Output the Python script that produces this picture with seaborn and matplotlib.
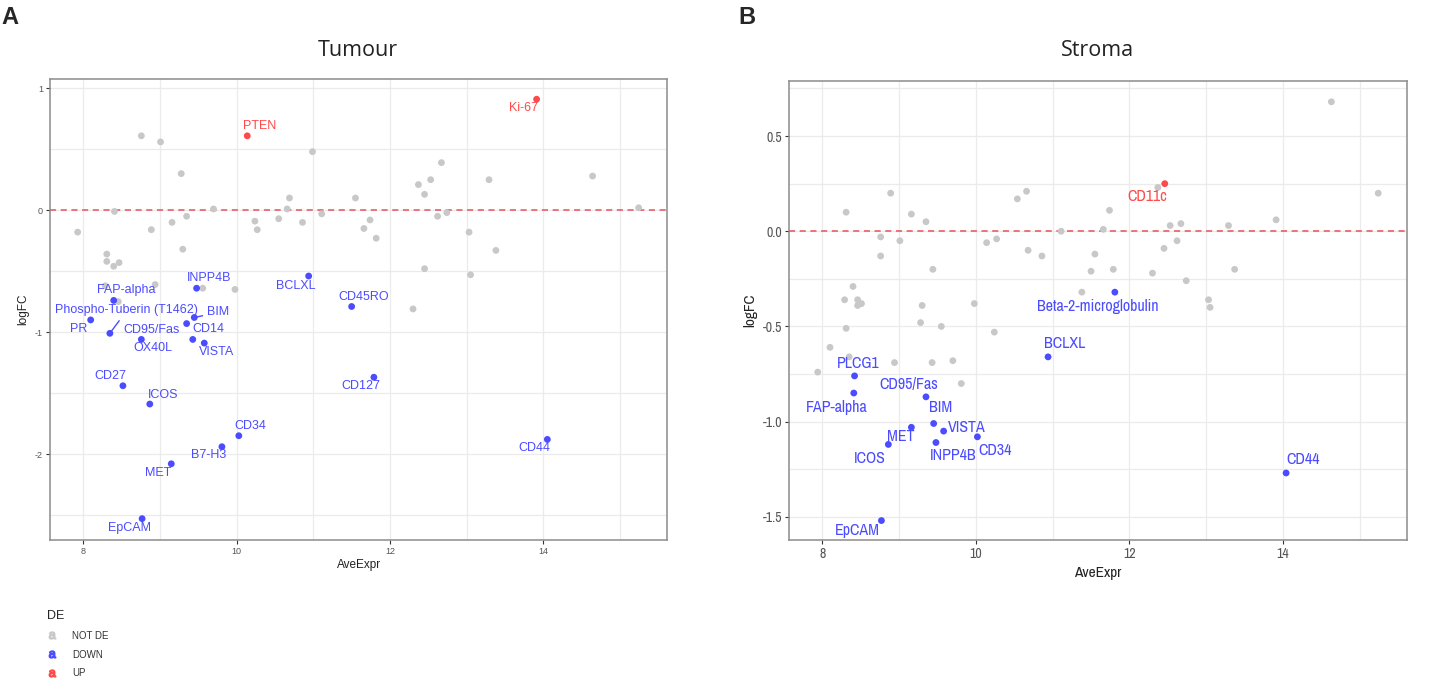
import matplotlib
matplotlib.use("Agg")
import matplotlib.pyplot as plt
from matplotlib import font_manager
from matplotlib.lines import Line2D
from matplotlib.ticker import MultipleLocator, FormatStrFormatter
import seaborn as sns
import pandas as pd

# ---------------- data ----------------
tumour_grey_x = [7.93, 8.76, 9.01, 9.28, 8.41, 8.89, 9.16, 9.35, 9.30, 9.70, 8.31, 8.31, 8.40, 8.47, 8.29,
                 8.94, 9.56, 9.98, 8.46, 10.24, 10.27, 10.55, 10.66, 10.69, 10.86, 10.99, 11.11, 11.55,
                 11.66, 11.74, 11.82, 12.30, 12.37, 12.45, 12.45, 12.53, 12.62, 12.67, 12.74, 13.03, 13.05,
                 13.38, 13.29, 14.64, 15.24]
tumour_grey_y = [-0.18, 0.61, 0.56, 0.30, -0.01, -0.16, -0.10, -0.05, -0.32, 0.01, -0.36, -0.42, -0.46, -0.43,
                 -0.62, -0.61, -0.64, -0.65, -0.75, -0.09, -0.16, -0.07, 0.01, 0.10, -0.10, 0.48, -0.03, 0.10,
                 -0.15, -0.08, -0.23, -0.81, 0.21, 0.13, -0.48, 0.25, -0.05, 0.39, -0.02, -0.18, -0.53, -0.33,
                 0.25, 0.28, 0.02]
tumour_down_names = ["BCLXL", "INPP4B", "FAP-alpha", "CD45RO", "PR", "BIM", "CD95/Fas",
                     "Phospho-Tuberin (T1462)", "OX40L", "CD14", "VISTA", "CD27", "ICOS", "CD127",
                     "CD34", "B7-H3", "MET", "EpCAM", "CD44"]
tumour_down_x = [10.94, 9.48, 8.40, 11.50, 8.10, 9.45, 9.35, 8.35, 8.76, 9.43, 9.58, 8.52, 8.87, 11.79,
                 10.03, 9.81, 9.15, 8.77, 14.05]
tumour_down_y = [-0.54, -0.64, -0.74, -0.79, -0.90, -0.88, -0.93, -1.01, -1.06, -1.06, -1.09, -1.44, -1.59,
                 -1.37, -1.85, -1.94, -2.08, -2.53, -1.88]
tumour_up_names = ["PTEN", "Ki-67"]
tumour_up_x = [10.14, 13.91]
tumour_up_y = [0.61, 0.91]

stroma_grey_x = [8.31, 8.89, 9.16, 9.35, 8.76, 8.76, 9.01, 9.44, 8.40, 8.29, 8.46, 8.46, 8.51, 8.31, 9.30,
                 9.28, 9.55, 9.98, 10.24, 10.14, 10.27, 10.54, 10.66, 10.68, 10.86, 11.11, 11.55, 11.50,
                 11.38, 8.10, 7.94, 8.35, 8.94, 9.43, 9.70, 9.81, 12.37, 11.74, 11.66, 11.79, 12.53, 12.67,
                 12.62, 12.45, 12.30, 12.74, 13.03, 13.05, 13.29, 14.63, 15.24, 13.91, 13.37]
stroma_grey_y = [0.10, 0.20, 0.09, 0.05, -0.03, -0.13, -0.05, -0.20, -0.29, -0.36, -0.36, -0.39, -0.38,
                 -0.51, -0.39, -0.48, -0.50, -0.38, -0.53, -0.06, -0.04, 0.17, 0.21, -0.10, -0.13, 0.00,
                 -0.12, -0.21, -0.32, -0.61, -0.74, -0.66, -0.69, -0.69, -0.68, -0.80, 0.23, 0.11, 0.01,
                 -0.20, 0.03, 0.04, -0.05, -0.09, -0.22, -0.26, -0.36, -0.40, 0.03, 0.68, 0.20, 0.06, -0.20]
stroma_down_names = ["PLCG1", "FAP-alpha", "CD95/Fas", "BIM", "MET", "VISTA", "CD34", "INPP4B", "ICOS",
                     "EpCAM", "BCLXL", "Beta-2-microglobulin", "CD44"]
stroma_down_x = [8.42, 8.41, 9.35, 9.45, 9.16, 9.58, 10.02, 9.48, 8.86, 8.77, 10.94, 11.81, 14.04]
stroma_down_y = [-0.76, -0.85, -0.87, -1.01, -1.03, -1.05, -1.08, -1.11, -1.12, -1.52, -0.66, -0.32, -1.27]
stroma_up_names = ["CD11c"]
stroma_up_x = [12.46]
stroma_up_y = [0.25]

# label offsets in pixels (dx right, dy down), like ggrepel placed them
tumour_offsets = {"PTEN": (12, -10), "Ki-67": (-13, 9), "CD44": (-13, 9), "BCLXL": (-13, 10),
                  "INPP4B": (13, -10), "FAP-alpha": (13, -10), "CD45RO": (12, -10),
                  "Phospho-Tuberin (T1462)": (17, -23), "PR": (-12, 9), "BIM": (24, -5),
                  "CD95/Fas": (-35, 6), "CD14": (16, -10), "OX40L": (12, 9), "VISTA": (12, 9),
                  "CD27": (-13, -10), "ICOS": (13, -9), "CD127": (-13, 9), "CD34": (12, -10),
                  "B7-H3": (-13, 8), "MET": (-13, 9), "EpCAM": (-13, 9)}
tumour_segments = ["Phospho-Tuberin (T1462)", "BIM"]
stroma_offsets = {"CD11c": (-18, 13), "Beta-2-microglobulin": (-17, 14), "BCLXL": (17, -13),
                  "CD44": (17, -13), "PLCG1": (4, -12), "FAP-alpha": (-17, 14), "CD95/Fas": (-17, -12),
                  "BIM": (7, -16), "VISTA": (23, -4), "MET": (-11, 9), "ICOS": (-19, 14),
                  "INPP4B": (17, 13), "CD34": (18, 14), "EpCAM": (-24, 10)}

GREY, BLUE, RED = "#c8c8c8", "#4b4bff", "#ff4a4a"
palette = {"NOT DE": GREY, "DOWN": BLUE, "UP": RED}


def build_df(gx, gy, dn, dx, dy, un, ux, uy):
    rows = [dict(name="", AveExpr=a, logFC=b, DE="NOT DE") for a, b in zip(gx, gy)]
    rows += [dict(name=n, AveExpr=a, logFC=b, DE="DOWN") for n, a, b in zip(dn, dx, dy)]
    rows += [dict(name=n, AveExpr=a, logFC=b, DE="UP") for n, a, b in zip(un, ux, uy)]
    return pd.DataFrame(rows)


tumour = build_df(tumour_grey_x, tumour_grey_y, tumour_down_names, tumour_down_x, tumour_down_y,
                  tumour_up_names, tumour_up_x, tumour_up_y)
stroma = build_df(stroma_grey_x, stroma_grey_y, stroma_down_names, stroma_down_x, stroma_down_y,
                  stroma_up_names, stroma_up_x, stroma_up_y)

sns.set_theme(style="white")
plt.rcParams["axes.unicode_minus"] = False
plt.rcParams["font.family"] = ["Liberation Sans", "DejaVu Sans"]
SANS = ["Liberation Sans", "DejaVu Sans"]

# the stroma panel uses a narrow face; take one if the system has it
fonts = font_manager.fontManager.ttflist
narrow_names = [f.name for f in fonts if "Narrow" in f.name or "Condensed" in f.name]
has_condensed = bool(narrow_names) or any(f.stretch in ("condensed", "semi-condensed") for f in fonts)
if narrow_names:
    NARROW = [narrow_names[0]] + SANS
else:
    NARROW = SANS
scale = 1.0 if has_condensed else 0.86
STRETCH = "condensed"

fig = plt.figure(figsize=(14.33, 6.87), dpi=100)
ax1 = fig.add_axes([0.0349, 0.214, 0.4306, 0.671])
ax2 = fig.add_axes([0.5508, 0.214, 0.4308, 0.668])


def style_axes(ax, ylim, ymajor, tick_size, fam, fmt, stretch="normal"):
    ax.set_xlim(7.57, 15.61)
    ax.set_ylim(*ylim)
    ax.xaxis.set_major_locator(MultipleLocator(2))
    ax.xaxis.set_minor_locator(MultipleLocator(1))
    ax.yaxis.set_major_locator(MultipleLocator(ymajor))
    ax.yaxis.set_minor_locator(MultipleLocator(ymajor / 2))
    ax.yaxis.set_major_formatter(FormatStrFormatter(fmt))
    ax.grid(which="both", color="#ebebeb", lw=0.9)
    ax.set_axisbelow(True)
    ax.tick_params(which="major", length=3, width=0.8, color="#333333", labelsize=tick_size,
                   labelcolor="#555555", pad=2, bottom=True, left=True)
    ax.tick_params(which="minor", length=0)
    for lab in ax.get_xticklabels() + ax.get_yticklabels():
        lab.set_family(fam)
        lab.set_stretch(stretch)
    for sp in ax.spines.values():
        sp.set_color("#8c8c8c")
        sp.set_linewidth(1.1)
    ax.axhline(0, color="#e8505b", ls=(0, (4, 3)), lw=1.1, zorder=1)


def draw_panel(ax, df, offsets, segments, fsize, fam, stretch="normal"):
    sns.scatterplot(data=df, x="AveExpr", y="logFC", hue="DE", palette=palette, s=24,
                    edgecolor="none", legend=False, ax=ax, zorder=3)
    for _, r in df[df["DE"] != "NOT DE"].iterrows():
        dx, dy = offsets[r["name"]]
        col = palette[r["DE"]]
        arrow = dict(arrowstyle="-", color=col, lw=1.0, shrinkA=1, shrinkB=2) if r["name"] in segments else None
        ax.annotate(r["name"], (r["AveExpr"], r["logFC"]), xytext=(dx, -dy), textcoords="offset pixels",
                    ha="center", va="center", color=col, fontsize=fsize, family=fam,
                    fontstretch=stretch, arrowprops=arrow, zorder=4)


draw_panel(ax1, tumour, tumour_offsets, tumour_segments, 9, SANS)
style_axes(ax1, (-2.705, 1.076), 1, 6.5, SANS, "%g")
ax1.set_xlabel("AveExpr", fontsize=8.5, color="#222222", labelpad=2)
ax1.set_ylabel("logFC", fontsize=8.5, color="#222222", labelpad=4)

draw_panel(ax2, stroma, stroma_offsets, [], 11.5 * scale, NARROW, STRETCH)
style_axes(ax2, (-1.622, 0.789), 0.5, 10 * scale, NARROW, "%.1f", STRETCH)
ax2.set_xlabel("AveExpr", fontsize=11 * scale, color="#222222", labelpad=4, family=NARROW,
               fontstretch=STRETCH)
ax2.set_ylabel("logFC", fontsize=11 * scale, color="#222222", labelpad=4, family=NARROW,
               fontstretch=STRETCH)

fig.text(358 / 1433, 1 - 50 / 687, "Tumour", ha="center", va="center", fontsize=15.5,
         family=["Open Sans", "DejaVu Sans"], color="#222222")
fig.text(1098 / 1433, 1 - 50 / 687, "Stroma", ha="center", va="center", fontsize=15.5,
         family=["Open Sans", "DejaVu Sans"], color="#222222")
fig.text(10 / 1433, 1 - 18 / 687, "A", ha="center", va="center", fontsize=17, fontweight="bold")
fig.text(747 / 1433, 1 - 18 / 687, "B", ha="center", va="center", fontsize=17, fontweight="bold")

handles = [Line2D([], [], ls="", marker=r"$\mathregular{a}$", color=palette[k], markersize=5, label=k)
           for k in ["NOT DE", "DOWN", "UP"]]
leg = fig.legend(handles=handles, title="DE", loc="upper left", bbox_to_anchor=(47 / 1433, 1 - 610 / 687),
                 frameon=False, fontsize=7, title_fontsize=9, labelspacing=0.9, handletextpad=1.6,
                 handlelength=1.0, borderaxespad=0, borderpad=0)
leg._legend_box.align = "left"
for t in leg.get_texts():
    t.set_color("#333333")

fig.savefig("out.png", dpi=100)
